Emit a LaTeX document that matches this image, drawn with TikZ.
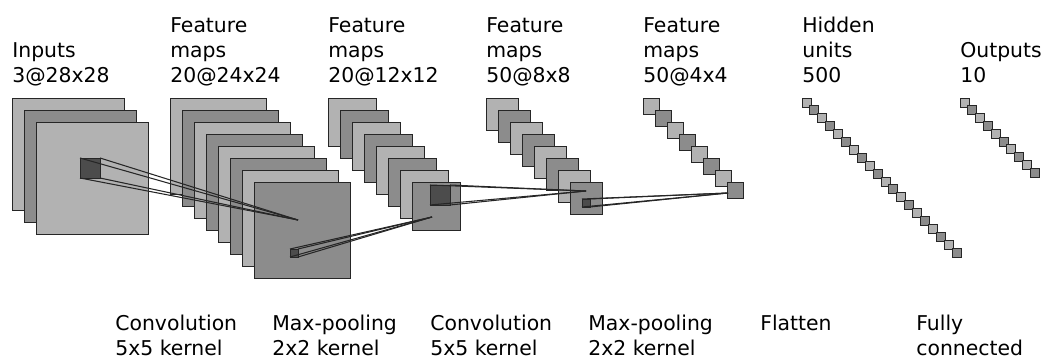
\documentclass[tikz,border=0pt]{standalone}
\usepackage{fontspec}
\setmainfont{DejaVu Sans}
\tikzset{
  fmap/.style={draw=black!85, line width=0.5pt, inner sep=0pt, outer sep=0pt, anchor=north west},
  lightmap/.style={fmap, fill=black!30},
  darkmap/.style={fmap, fill=black!45},
  kernel/.style={fmap, fill=black!70},
  link/.style={draw=black!85, line width=0.6pt},
  caption/.style={anchor=north west, align=left, inner sep=0pt,
    font=\fontsize{11.6}{14.2}\selectfont},
}
\begin{document}
\begin{tikzpicture}[x=0.02cm, y=-0.02cm]
\useasboundingbox (0,0) rectangle (1046,358);
% stacks of maps
\foreach \name/\xa/\n/\s/\d in {in/12/3/112/12, ca/170/8/96/12, pa/328/8/48/12,
    cb/486/8/32/12, pb/643/8/16/12, hid/802/20/9/7.9, out/960/10/9/7.8}{
  \foreach \i in {1,...,\n}{
    \ifodd\i \def\look{lightmap}\else \def\look{darkmap}\fi
    \node[\look, minimum size=\s*0.02cm] (\name\i) at ({\xa+\d*(\i-1)},{98+\d*(\i-1)}) {};
  }
}
% layer titles
\node[caption] (t-in) at (12,42) {Inputs\\3@28x28};
\node[caption] (t-ca) at (170,17) {Feature\\maps\\20@24x24};
\node[caption] (t-pa) at (328,17) {Feature\\maps\\20@12x12};
\node[caption] (t-cb) at (486,17) {Feature\\maps\\50@8x8};
\node[caption] (t-pb) at (643,17) {Feature\\maps\\50@4x4};
\node[caption] (t-hid) at (802,17) {Hidden\\units\\500};
\node[caption] (t-out) at (960,42) {Outputs\\10};
% operations
\node[caption] (o1) at (115,315) {Convolution\\5x5 kernel};
\node[caption] (o2) at (272,315) {Max-pooling\\2x2 kernel};
\node[caption] (o3) at (430,315) {Convolution\\5x5 kernel};
\node[caption] (o4) at (588,315) {Max-pooling\\2x2 kernel};
\node[caption] (o5) at (760,315) {Flatten};
\node[caption] (o6) at (916,315) {Fully\\connected};
% kernels and where they land
\node[kernel, minimum size=20*0.02cm] (k1) at (80,158) {};
\node[kernel, minimum size=8*0.02cm] (k2) at (290,249) {};
\node[kernel, minimum size=20*0.02cm] (k3) at (430,185) {};
\node[kernel, minimum size=8*0.02cm] (k4) at (582,199) {};
\coordinate (e1) at (298,220);
\coordinate (e2) at (432,217);
\coordinate (e3) at (586,191);
\coordinate (e4) at (728,193);
\foreach \k/\e in {k1/e1, k2/e2, k3/e3, k4/e4}
  \foreach \c in {north west, north east, south west, south east}
    \draw[link] (\k.\c) -- (\e);
\end{tikzpicture}
\end{document}
